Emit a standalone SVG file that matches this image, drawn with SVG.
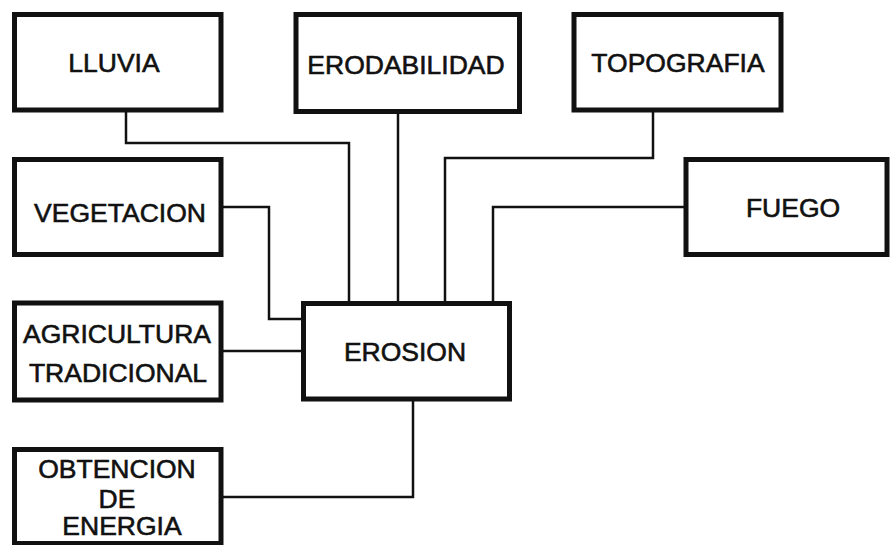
<svg xmlns="http://www.w3.org/2000/svg" width="891" height="545" viewBox="0 0 891 545">
<style>
.box{fill:#fff;stroke:#111;stroke-width:5}
.lbl{font-family:"Liberation Sans",Arial,sans-serif;font-size:26.5px;fill:#111;stroke:#111;stroke-width:0.6;text-anchor:middle}
.con{fill:none;stroke:#111;stroke-width:2.5}
</style>
<rect width="891" height="545" fill="#fff"/>
<g id="connectors">
<polyline class="con" points="126,110 126,143 349,143 349,303"/>
<polyline class="con" points="398,111 398,303"/>
<polyline class="con" points="653,110 653,158 445,158 445,303"/>
<polyline class="con" points="686,207 493,207 493,303"/>
<polyline class="con" points="221,207 269,207 269,319 303,319"/>
<polyline class="con" points="221,351 303,351"/>
<polyline class="con" points="221,497 413,497 413,399"/>
</g>
<g id="lluvia"><rect class="box" x="14.5" y="14.5" width="206.5" height="95.5"/><text class="lbl" x="114" y="72">LLUVIA</text></g>
<g id="erodabilidad"><rect class="box" x="296" y="14.5" width="223.5" height="97"/><text class="lbl" x="406" y="74">ERODABILIDAD</text></g>
<g id="topografia"><rect class="box" x="574" y="14.5" width="207" height="95.5"/><text class="lbl" x="678" y="72">TOPOGRAFIA</text></g>
<g id="fuego"><rect class="box" x="686" y="159.5" width="201" height="95"/><text class="lbl" x="793" y="217">FUEGO</text></g>
<g id="vegetacion"><rect class="box" x="14.5" y="159.5" width="206.5" height="95"/><text class="lbl" x="120" y="222">VEGETACION</text></g>
<g id="agricultura"><rect class="box" x="14.5" y="303" width="206.5" height="97"/><text class="lbl" x="117" y="343">AGRICULTURA</text><text class="lbl" x="118" y="382">TRADICIONAL</text></g>
<g id="erosion"><rect class="box" x="303.5" y="303.5" width="206" height="95.5"/><text class="lbl" x="405" y="361">EROSION</text></g>
<g id="obtencion"><rect class="box" x="14.5" y="449.5" width="206.5" height="94"/><text class="lbl" x="117" y="478">OBTENCION</text><text class="lbl" x="117" y="508">DE</text><text class="lbl" x="122" y="535">ENERGIA</text></g>
</svg>
